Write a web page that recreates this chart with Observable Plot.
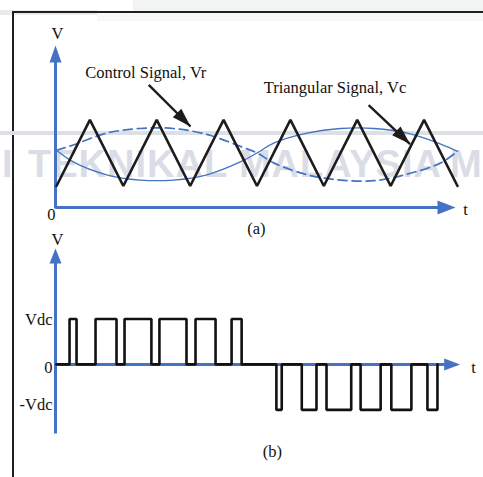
<!DOCTYPE html>
<html>
<head>
<meta charset="utf-8">
<script src="https://cdn.jsdelivr.net/npm/d3@7"></script>
<script src="https://cdn.jsdelivr.net/npm/@observablehq/plot@0.6"></script>
<style>
  html, body { margin: 0; padding: 0; background: #fff; }
  #wrap { position: relative; width: 483px; height: 477px; overflow: hidden; background: #fff; }
  .abs { position: absolute; }
  .layer { position: absolute; left: 0; top: 0; }
  .wm { position: absolute; top: 145px; white-space: nowrap; font-family: 'Liberation Sans'; font-weight: bold;
        font-size: 38px; line-height: 38px; letter-spacing: 1px; color: #dadde5; }
</style>
</head>
<body>
<div id="wrap">
  <div class="abs" style="left:133px;top:0;width:350px;height:12px;background:#f2f3f3"></div>
  <div class="abs" style="left:0;top:10px;width:97px;height:5px;background:#e8eaee"></div>
  <div class="abs" style="left:97px;top:13px;width:386px;height:8px;background:#f6f7f7"></div>
  <div class="abs" style="left:13px;top:11px;width:470px;height:2px;background:#1e1e1e"></div>
  <div class="abs" style="left:12px;top:11px;width:2px;height:466px;background:#1e1e1e"></div>
  <div class="abs" style="left:0;top:131px;width:483px;height:4px;background:#dcdfe3"></div>
  <div class="wm" style="left:2px">I</div>
  <div class="wm" style="left:28px">TEKNIKAL MALAYSIA</div>
  <div class="wm" style="left:450px">M</div>
  <div id="plotA" class="layer"></div>
  <div id="plotB" class="layer"></div>
</div>
<script>
// ---------- Panel (a): carrier (triangular) and control signals ----------
const carrierT = [0, 0.5, 1, 1.5, 2, 2.5, 3, 3.5, 4, 4.5, 5, 5.5, 6];
const carrierV = [-1, 1, -1, 1, -1, 1, -1, 1, -1, 1, -1, 1, -1];

const controlT  = [0, 0.25, 0.75, 1.25, 1.75, 2.25, 2.75, 3.0, 3.25, 3.75, 4.25, 4.75, 5.25, 5.75, 6];
const controlVr = [0.08, 0.24, 0.6, 0.74, 0.74, 0.56, 0.2, 0, -0.3, -0.66, -0.82, -0.84, -0.64, -0.3, 0.05];
const controlVm = [0.08, -0.27, -0.66, -0.82, -0.82, -0.66, -0.27, 0, 0.3, 0.6, 0.74, 0.74, 0.6, 0.27, 0.05];

// annotation labels & pointer arrows (in data units)
const noteText  = ["Control Signal, Vr", "Triangular Signal, Vc"];
const noteT     = [0.43, 3.10];
const noteV     = [2.42, 1.97];
const pointerT1 = [1.38, 4.67];
const pointerV1 = [2.06, 1.45];
const pointerT2 = [2.005, 5.29];
const pointerV2 = [0.80, 0.27];
const pointerAngle = [135, 134];

// axis labels panel (a)
const labelsAText = ["V", "0", "t", "(a)"];
const labelsAT    = [0.015, -0.075, 6.12, 2.99];
const labelsAV    = [3.60, -1.86, -1.72, -2.30];

// ---------- Panel (b): PWM output ----------
const pwmT     = [0, 0.195, 0.30, 0.584, 0.898, 1.018, 1.42, 1.54, 1.945, 2.08, 2.38, 2.62, 2.77,
                  3.29, 3.37, 3.67, 3.89, 4.04, 4.41, 4.55, 4.85, 5.01, 5.31, 5.55, 5.70];
const pwmLevel = [0, 1, 0, 1, 0, 1, 0, 1, 0, 1, 0, 1, 0,
                  -1, 0, -1, 0, -1, 0, -1, 0, -1, 0, -1, 0];

const levelTicks  = ["Vdc", "0", "-Vdc"];
const levelTickU  = [0.99, -0.066, -0.88];
const labelsBText = ["V", "t", "(b)"];
const labelsBT    = [0.015, 6.24, 3.23];
const labelsBU    = [2.75, -0.066, -1.91];

// ---------- styling ----------
const BLUE = "#4472c4";
const INK = "#1c1c1c";
const SERIF = "Liberation Serif, Times New Roman, serif";
const FS = 16.5;

const carrier = carrierT.map((t, i) => ({t, v: carrierV[i]}));
const ctrlR = controlT.map((t, i) => ({t, v: controlVr[i]}));
const ctrlM = controlT.map((t, i) => ({t, v: controlVm[i]}));
const notes = noteText.map((s, i) => ({s, t: noteT[i], v: noteV[i]}));
const pointers = pointerT1.map((t1, i) => ({t1, v1: pointerV1[i], t2: pointerT2[i], v2: pointerV2[i], a: pointerAngle[i]}));
const labelsA = labelsAText.map((s, i) => ({s, t: labelsAT[i], v: labelsAV[i]}));

// axes of panel (a) in data units
const axA = {t0: -0.015, tEnd: 5.97, vBase: -1.65, vBottom: -1.68, vTop: 3.25};

const plotA = Plot.plot({
  width: 483, height: 477,
  x: {domain: [0, 6], range: [56, 457], axis: null},
  y: {domain: [-1.65, 3.25], range: [207, 45], axis: null},
  style: {background: "transparent", overflow: "visible"},
  marks: [
    Plot.link([axA], {x1: d => d.t0, y1: d => d.vBase, x2: d => d.tEnd - 0.2, y2: d => d.vBase, stroke: BLUE, strokeWidth: 3}),
    Plot.link([axA], {x1: d => d.t0, y1: d => d.vBottom, x2: d => d.t0, y2: d => d.vTop - 0.4, stroke: BLUE, strokeWidth: 3}),
    Plot.vector([axA], {x: d => d.tEnd, y: d => d.vBase, rotate: 90, length: 18, r: 7, anchor: "end", shape: "spike", fill: BLUE, fillOpacity: 1, stroke: "none"}),
    Plot.vector([axA], {x: d => d.t0, y: d => d.vTop, rotate: 0, length: 17, r: 6, anchor: "end", shape: "spike", fill: BLUE, fillOpacity: 1, stroke: "none"}),
    Plot.line(ctrlM, {x: "t", y: "v", stroke: BLUE, strokeWidth: 1.3, curve: "catmull-rom"}),
    Plot.line(ctrlR, {x: "t", y: "v", stroke: BLUE, strokeWidth: 1.7, strokeDasharray: "9,5", curve: "catmull-rom"}),
    Plot.line(carrier, {x: "t", y: "v", stroke: INK, strokeWidth: 2.6, strokeLinejoin: "miter"}),
    Plot.link(pointers, {x1: "t1", y1: "v1", x2: "t2", y2: "v2", stroke: INK, strokeWidth: 2.4}),
    Plot.vector(pointers, {x: "t2", y: "v2", rotate: "a", length: 19, r: 6, anchor: "end", shape: "spike", fill: INK, fillOpacity: 1, stroke: "none"}),
    Plot.text(notes, {x: "t", y: "v", text: "s", textAnchor: "start", fontSize: FS, fontFamily: SERIF, fill: "#111"}),
    Plot.text(labelsA, {x: "t", y: "v", text: "s", fontSize: FS, fontFamily: SERIF, fill: "#111"})
  ]
});
document.getElementById("plotA").appendChild(plotA);

// ---------- panel (b) ----------
const pwm = pwmT.map((t, i) => ({t, u: pwmLevel[i]}));
const ticksB = levelTicks.map((s, i) => ({s, u: levelTickU[i]}));
const labelsB = labelsBText.map((s, i) => ({s, t: labelsBT[i], u: labelsBU[i]}));
const axB = {t0: -0.015, tx0: 0.015, tEnd: 6.04, uBase: 0, uBottom: -1.52, uTop: 2.55};

const plotB = Plot.plot({
  width: 483, height: 477,
  x: {domain: [0, 6], range: [56, 457], axis: null},
  y: {domain: [-1.52, 2.55], range: [433, 248], axis: null},
  style: {background: "transparent", overflow: "visible"},
  marks: [
    Plot.link([axB], {x1: d => d.tx0, y1: d => d.uBase, x2: d => d.tEnd - 0.18, y2: d => d.uBase, stroke: BLUE, strokeWidth: 3}),
    Plot.link([axB], {x1: d => d.t0, y1: d => d.uBottom, x2: d => d.t0, y2: d => d.uTop - 0.25, stroke: BLUE, strokeWidth: 3}),
    Plot.vector([axB], {x: d => d.tEnd, y: d => d.uBase, rotate: 90, length: 16, r: 6, anchor: "end", shape: "spike", fill: BLUE, fillOpacity: 1, stroke: "none"}),
    Plot.vector([axB], {x: d => d.t0, y: d => d.uTop, rotate: 0, length: 15, r: 6, anchor: "end", shape: "spike", fill: BLUE, fillOpacity: 1, stroke: "none"}),
    Plot.line(pwm, {x: "t", y: "u", curve: "step-after", stroke: "#111", strokeWidth: 2.6, strokeLinejoin: "miter"}),
    Plot.text(ticksB, {x: -0.06, y: "u", text: "s", textAnchor: "end", fontSize: FS, fontFamily: SERIF, fill: "#111"}),
    Plot.text(labelsB, {x: "t", y: "u", text: "s", fontSize: FS, fontFamily: SERIF, fill: "#111"})
  ]
});
document.getElementById("plotB").appendChild(plotB);
</script>
</body>
</html>
